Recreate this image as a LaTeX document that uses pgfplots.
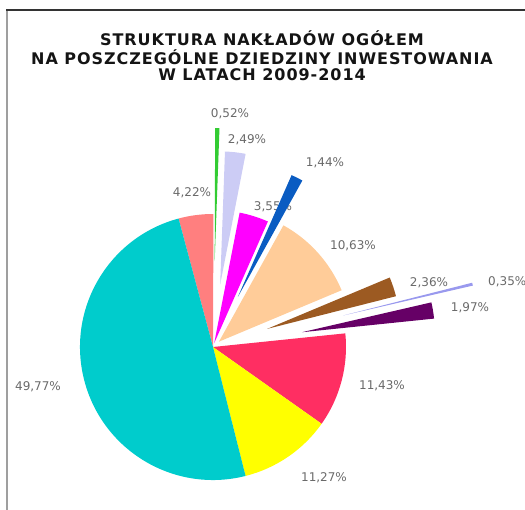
\documentclass[border=0pt]{standalone}
\usepackage{pgfplots}
\pgfplotsset{compat=1.18}
\usepackage{pgfplotstable}
\usepackage{fontspec}
\setmainfont{DejaVu Sans}
\newfontfamily\titlefont[LetterSpace=6]{DejaVu Sans}
\definecolor{cSal}{HTML}{FF7F7F}
\definecolor{cGrn}{HTML}{33CC33}
\definecolor{cLav}{HTML}{CCCCF5}
\definecolor{cMag}{HTML}{FF00FF}
\definecolor{cBlu}{HTML}{0A5CC2}
\definecolor{cPea}{HTML}{FFCC99}
\definecolor{cBrn}{HTML}{9C5A22}
\definecolor{cLil}{HTML}{9999EE}
\definecolor{cPur}{HTML}{660066}
\definecolor{cRed}{HTML}{FF2E62}
\definecolor{cYel}{HTML}{FFFF00}
\definecolor{cCya}{HTML}{00CCCC}
\definecolor{lblgray}{HTML}{6A6A6A}

\pgfplotstableread{
val   col   expl  lx    ly   anc
4.22  cSal  0     -21   154  center
0.52  cGrn  86    17    233  center
2.49  cLav  63    34    207  center
3.55  cMag  4     60    140  center
1.44  cBlu  56    112   184  center
10.63 cPea  8     140   101  center
2.36  cBrn  57    216   64   center
0.35  cLil  134   275   65   west
1.97  cPur  90    257   39   center
11.43 cRed  0     169   -39  center
11.27 cYel  0     111   -131 center
49.77 cCya  0     -175  -40  center
}\piedata

\begin{document}
\begin{tikzpicture}
\begin{axis}[
  x=1pt, y=1pt,
  xmin=-213, xmax=312, ymin=-162, ymax=347,
  enlargelimits=false,
  hide axis,
  clip=true,
]
% frame
\draw[gray!75, line width=2pt] (axis cs:-206,-170) -- (axis cs:-206,337);
\draw[black!80, line width=1.2pt] (axis cs:-207,337) -- (axis cs:320,337);
% title
\node[font=\titlefont\fontsize{16}{18}\selectfont\bfseries, text=black!92] at (axis cs:49,309) {STRUKTURA NAKŁADÓW OGÓŁEM};
\node[font=\titlefont\fontsize{16}{18}\selectfont\bfseries, text=black!92] at (axis cs:49,290) {NA POSZCZEGÓLNE DZIEDZINY INWESTOWANIA};
\node[font=\titlefont\fontsize{16}{18}\selectfont\bfseries, text=black!92] at (axis cs:49,272) {W LATACH 2009-2014};
% labels first
\pgfplotsforeachungrouped \i in {0,...,11}{%
  \pgfplotstablegetelem{\i}{val}\of\piedata \let\vv\pgfplotsretval
  \pgfplotstablegetelem{\i}{lx}\of\piedata \let\lxx\pgfplotsretval
  \pgfplotstablegetelem{\i}{ly}\of\piedata \let\lyy\pgfplotsretval
  \pgfplotstablegetelem{\i}{anc}\of\piedata \let\ancc\pgfplotsretval
  \edef\tmp{\noexpand\node[font=\noexpand\fontsize{12}{14}\noexpand\selectfont, text=lblgray, anchor=\ancc, inner sep=0pt] at (axis cs:\lxx,\lyy) {\noexpand\pgfmathprintnumber[fixed,precision=2,fixed zerofill,use comma,assume math mode=true]{\vv}\noexpand\%};}%
  \tmp
}
% slices
\def\cum{0}
\pgfplotsforeachungrouped \i in {0,...,11}{%
  \pgfplotstablegetelem{\i}{val}\of\piedata \let\vv\pgfplotsretval
  \pgfplotstablegetelem{\i}{col}\of\piedata \let\coll\pgfplotsretval
  \pgfplotstablegetelem{\i}{expl}\of\piedata \let\ee\pgfplotsretval
  \pgfmathsetmacro\angA{105-3.6*\cum}
  \pgfmathsetmacro\angB{105-3.6*(\cum+\vv)}
  \pgfmathsetmacro\angM{(\angA+\angB)/2}
  \pgfmathsetmacro\ddx{\ee*cos(\angM)}
  \pgfmathsetmacro\ddy{\ee*sin(\angM)}
  \edef\tmp{\noexpand\fill[\coll] (axis cs:\ddx,\ddy) -- ++(\angA:133pt) arc[start angle=\angA, end angle=\angB, radius=133pt] -- cycle;}%
  \tmp
  \pgfmathsetmacro\cum{\cum+\vv}
}
\end{axis}
\pgfresetboundingbox
\useasboundingbox (current axis.south west) rectangle (current axis.north east);
\end{tikzpicture}
\end{document}
